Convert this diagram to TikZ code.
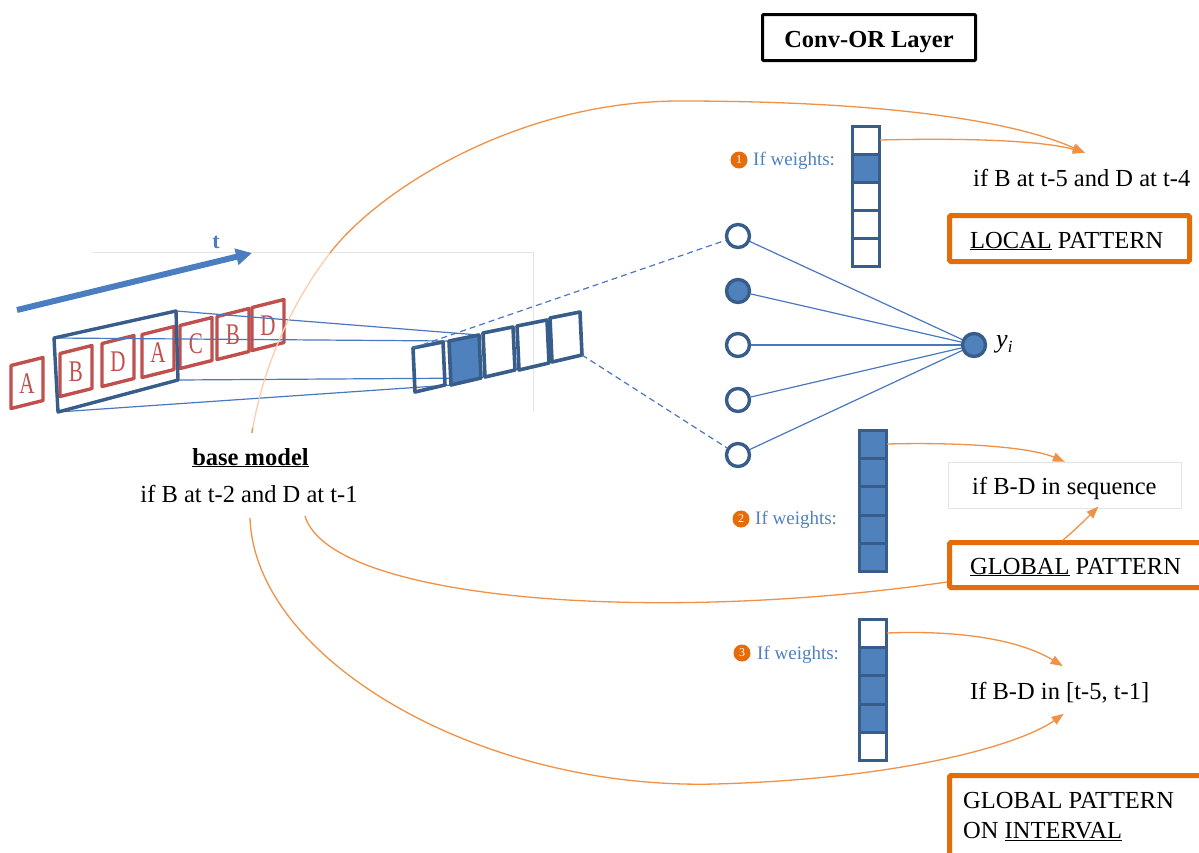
\documentclass[tikz,border=0pt]{standalone}
\usepackage{fontspec}
\setmainfont{Liberation Serif}
\usetikzlibrary{arrows.meta}
\definecolor{dkblue}{RGB}{56,93,138}
\definecolor{midblue}{RGB}{79,129,189}
\definecolor{lnblue}{RGB}{74,120,192}
\definecolor{tblue}{RGB}{74,126,193}
\definecolor{lred}{RGB}{192,80,77}
\definecolor{obox}{RGB}{228,108,10}
\definecolor{ocurve}{RGB}{240,145,70}
\definecolor{opale}{RGB}{250,205,175}
\definecolor{fgray}{RGB}{228,228,228}
\newcommand\weightcol[4]{%
  \foreach \f [count=\i from 0] in {#4}
    \draw[wcell, fill=\f] ({#1},{#2+\i*#3}) rectangle ++(27,#3);}
\begin{document}
\begin{tikzpicture}[x=1pt,y=-1pt,
  txt/.style={font=\fontsize{24.5}{30}\selectfont, inner sep=0pt, anchor=base west},
  wtxt/.style={font=\fontsize{19}{22}\selectfont, text=midblue, inner sep=0pt, anchor=base west},
  badge/.style={circle, fill=obox, inner sep=0pt, minimum size=17pt, text=white, font=\fontsize{12}{12}\selectfont},
  lbox/.style={draw=lred, line width=3.4pt, line join=round},
  fcell/.style={draw=dkblue, line width=3.6pt, line join=round},
  wcell/.style={draw=dkblue, line width=3pt},
  neuron/.style={circle, draw=dkblue, line width=3.4pt, minimum size=23pt, inner sep=0pt, fill=white},
  thin/.style={draw=lnblue, line width=1.2pt},
  obrd/.style={draw=obox, line width=5pt, rounded corners=1.5pt},
  ocon/.style={draw=ocurve, line width=1.3pt},
  oarr/.style={draw=ocurve, line width=1.3pt, -{Triangle[length=12pt,width=9pt]}, shorten >=-2pt},
]
\useasboundingbox (0,0) rectangle (1199,852);
\clip (0,0) rectangle (1199,852);
\fill[white] (0,0) rectangle (1199,852);

% faint frame
\draw[fgray, line width=1pt] (92,252) -- (533,252) -- (533,412);

% time arrow
\draw[tblue, line width=6pt, -{Triangle[length=16pt,width=16pt]}] (17,310) -- (252,253);
\node[font=\fontsize{22}{22}\selectfont\bfseries, text=tblue, inner sep=0pt, anchor=base] (tl) at (216,248) {t};

% letter boxes
\foreach \cx/\cy/\L in {27/383/A, 76/371/B, 118/361/D, 158/352/A, 196/343/C, 233/334/B, 268/325/D}{
  \draw[lbox] (\cx-16,\cy-17.5) -- (\cx+16,\cy-25.5) -- (\cx+16,\cy+17.5) -- (\cx-16,\cy+25.5) -- cycle;
  \node[text=lred, inner sep=0pt, font=\fontsize{30}{30}\selectfont] at (\cx,\cy+1) {\scalebox{0.7}[1]{\L}};
}

% window corners
\coordinate (wtl) at (54,338);
\coordinate (wtr) at (176,311);
\coordinate (wbr) at (178,380);
\coordinate (wbl) at (58,412);

% filled cell corners
\coordinate (ftl) at (449,341);
\coordinate (ftr) at (479,335);
\coordinate (fbr) at (481,378);
\coordinate (fbl) at (451,385);

% thin projection lines
\draw[thin] (wtr) -- (ftr);
\draw[thin] (wtl) -- (ftl);
\draw[thin] (wbr) -- (fbr);
\draw[thin] (wbl) -- (fbl);

% window
\draw[draw=dkblue, line width=3.4pt, line join=round] (wtl) -- (wtr) -- (wbr) -- (wbl) -- cycle;

% feature cells
\foreach \x/\y/\c in {413/348/none, 449/341/midblue, 483/333/none, 517/326/none, 550/318/none}{
  \draw[fcell, fill=\c] (\x,\y) -- ++(30,-6) -- ++(2,43) -- ++(-30,7) -- cycle;
}
\coordinate (f1tl) at (413,348);
\coordinate (f5br) at (582,355);

% neurons
\node[neuron] (c1) at (738,236) {};
\node[neuron, fill=midblue] (c2) at (738,291) {};
\node[neuron] (c3) at (738,345) {};
\node[neuron] (c4) at (738,400) {};
\node[neuron] (c5) at (738,455) {};
\node[neuron, fill=midblue] (y) at (974,345) {};
\node[inner sep=0pt, anchor=base west, font=\fontsize{26}{26}\selectfont\itshape] (ylab) at (996,347) {y\raisebox{-5pt}{\fontsize{17}{17}\selectfont i}};

\draw[lnblue, line width=1.2pt, dash pattern=on 6pt off 4pt] (f1tl) -- (c1);
\draw[lnblue, line width=1.2pt, dash pattern=on 6pt off 4pt] (f5br) -- (c5);
\foreach \n in {c1,c2,c3,c4,c5} \draw[thin] (\n) -- (y);

% weight columns
\weightcol{852.5}{126.5}{28}{white,midblue,white,white,white}
\weightcol{859.5}{430.5}{28.2}{midblue,midblue,midblue,midblue,midblue}
\weightcol{859.5}{619.5}{28.2}{white,midblue,midblue,midblue,white}
\coordinate (w1) at (880,140);
\coordinate (w2) at (887,444);
\coordinate (w3) at (887,633);

% if weights labels
\node[badge] (b1) at (739,160) {1};
\node[wtxt] (iw1) at (753,165) {If weights:};
\node[badge] (b2) at (741,519) {2};
\node[wtxt] (iw2) at (755,524) {If weights:};
\node[badge] (b3) at (742,653) {3};
\node[wtxt] (iw3) at (757,659) {If weights:};

% title
\draw[black, line width=3pt, rounded corners=1pt] (762.5,14.5) rectangle (975.5,60.5);
\node[font=\fontsize{24.5}{30}\selectfont\bfseries, inner sep=0pt, anchor=base] (title) at (869,47) {Conv-OR Layer};

% right texts and boxes
\node[txt] (r1) at (973,186) {if B at t-5 and D at t-4};
\draw[obrd] (949.5,215.5) rectangle (1189.5,261.5);
\node[txt] (local) at (970,248) {\underline{LOCAL} PATTERN};

\draw[fgray, line width=1pt] (948,462) rectangle (1181,508);
\node[txt] (r2) at (972,494) {if B-D in sequence};
\draw[obrd] (949.5,542.5) rectangle (1215,587.5);
\node[txt] (global) at (970,574) {\underline{GLOBAL} PATTERN};

\node[txt] (r3) at (970,699) {If B-D in [t-5, t-1]};
\draw[obrd] (949.5,775.5) rectangle (1215,870);
\node[txt, align=left] (gint) at (963,838) {GLOBAL PATTERN\\ON \underline{INTERVAL}};

% base model
\node[font=\fontsize{24.5}{30}\selectfont\bfseries, inner sep=0pt, anchor=base] (bm) at (250.5,465) {\underline{base model}};
\node[font=\fontsize{24.5}{30}\selectfont, inner sep=0pt, anchor=base] (bmt) at (249,502) {if B at t-2 and D at t-1};

% orange connectors
\coordinate (a0) at (252,433);
\coordinate (a1) at (330,253);
\coordinate (a2) at (680,101);
\coordinate (t1) at (1083,152);
\draw[draw=opale, line width=1.3pt] (a0) .. controls (262,370) and (290,305) .. (a1);
\draw[ocurve, line width=1.3pt] (a0) -- (252.5,428);
\draw[oarr] (a1) .. controls (380,188) and (520,101) .. (a2) .. controls (850,101) and (1000,115) .. (t1);
\draw[oarr] (w1) .. controls (960,138) and (1040,140) .. (t1);
\draw[oarr] (w2) .. controls (960,442) and (1030,447) .. (1063,461);
\coordinate (gtop) at (1063,540);
\draw[oarr] (gtop) .. controls (1075,530) and (1086,519) .. (1097,508);
\coordinate (e0) at (305,516);
\coordinate (gl) at (947,582);
\draw[ocon] (e0) .. controls (330,600) and (650,625) .. (gl);
\coordinate (f0) at (250,518);
\coordinate (fm) at (715,784);
\draw[oarr] (f0) .. controls (255,660) and (480,790) .. (fm) .. controls (900,779) and (1020,745) .. (1062,715);
\draw[oarr] (w3) .. controls (960,630) and (1020,640) .. (1061,665);
\end{tikzpicture}
\end{document}
